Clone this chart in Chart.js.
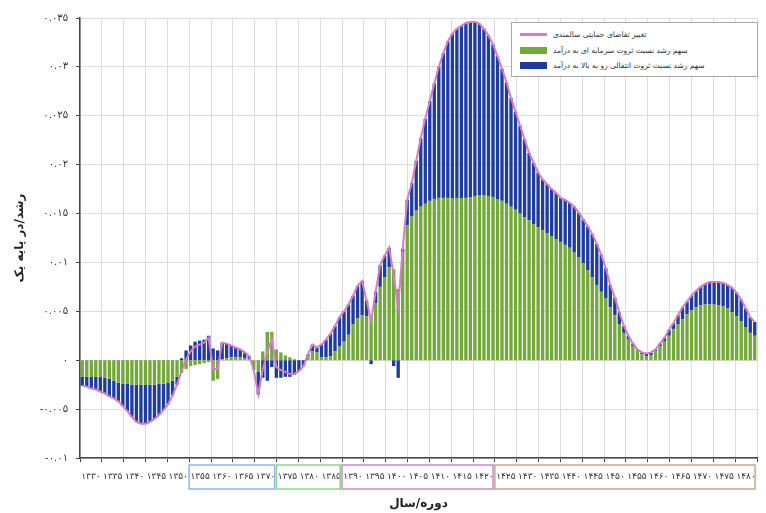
<!DOCTYPE html>
<html lang="fa">
<head>
<meta charset="utf-8">
<title>Chart</title>
<script src="https://cdn.jsdelivr.net/npm/chart.js@4.4.1/dist/chart.umd.min.js"></script>
<style>
  html, body { margin: 0; padding: 0; background: #fff; }
  #wrap { position: relative; width: 766px; height: 513px; }
  #legend {
    position: absolute; left: 511px; top: 22px; width: 247px; height: 55px;
    box-sizing: border-box; border: 1px solid #a8a8a8; background: #fff;
    padding-top: 4px; font-family: "DejaVu Sans", sans-serif; font-size: 7.5px; color: #333;
  }
  #legend .row { display: flex; align-items: center; height: 15.5px; padding-left: 8px; }
  #legend .sw { width: 27px; margin-right: 6px; flex: none; }
</style>
</head>
<body>
<div id="wrap">
  <canvas id="chart"></canvas>
  <div id="legend"></div>
</div>
<script>
// years 1330 .. 1479, one bar per year
const years = [];
for (let y = 1330; y < 1480; y++) years.push(y);

// capital wealth ratio share (green)
const capitalShare = [
  -0.0017, -0.0017, -0.0017, -0.0017, -0.0017, -0.0018, -0.0019, -0.0021, -0.0023, -0.0024,
  -0.0024, -0.0025, -0.0025, -0.0025, -0.0025, -0.0025, -0.0025, -0.0024, -0.0024, -0.0023,
  -0.0021, -0.0017, -0.0013, -0.0009, -0.0006, -0.0005, -0.0004, -0.0003, -0.0002, -0.0021,
  -0.0019, 0.0001, 0.0002, 0.0003, 0.0003, 0.0003, 0.0002, 0.0001, -0.0010, -0.0012,
  0.0009, 0.0029, 0.0029, 0.0011, 0.0008, 0.0005, 0.0003, 0.0001, 0, 0,
  0.0004, 0.0009, 0.0008, 0.0003, 0.0003, 0.0004, 0.0009, 0.0014, 0.0019, 0.0026,
  0.0037, 0.0043, 0.0046, 0.0045, 0.0044, 0.0058, 0.0075, 0.0085, 0.0095, 0.0093,
  0.0073, 0.0110, 0.0138, 0.0147, 0.0153, 0.0157, 0.0160, 0.0163, 0.0165, 0.0166,
  0.0166, 0.0166, 0.0166, 0.0166, 0.0166, 0.0166, 0.0167, 0.0168, 0.0169, 0.0169,
  0.0168, 0.0167, 0.0165, 0.0163, 0.0160, 0.0157, 0.0154, 0.0150, 0.0146, 0.0143,
  0.0139, 0.0136, 0.0133, 0.0130, 0.0127, 0.0124, 0.0121, 0.0118, 0.0115, 0.0110,
  0.0105, 0.0099, 0.0092, 0.0085, 0.0077, 0.0070, 0.0063, 0.0054, 0.0046, 0.0037,
  0.0028, 0.0021, 0.0014, 0.0010, 0.0006, 0.0004, 0.0005, 0.0009, 0.0014, 0.0019,
  0.0025, 0.0032, 0.0037, 0.0042, 0.0047, 0.0051, 0.0054, 0.0056, 0.0057, 0.0057,
  0.0057, 0.0056, 0.0055, 0.0053, 0.0049, 0.0045, 0.0040, 0.0034, 0.0028, 0.0025
];

// upward transfer wealth ratio share (blue)
const transferShare = [
  -0.0009, -0.0010, -0.0012, -0.0013, -0.0015, -0.0016, -0.0018, -0.0018, -0.0019, -0.0023,
  -0.0028, -0.0033, -0.0038, -0.0040, -0.0040, -0.0038, -0.0035, -0.0032, -0.0027, -0.0022,
  -0.0015, -0.0008, 0.0002, 0.0010, 0.0015, 0.0019, 0.0020, 0.0021, 0.0025, 0.0012,
  0.0010, 0.0017, 0.0015, 0.0012, 0.0010, 0.0008, 0.0006, 0.0003, 0, -0.0023,
  -0.0018, -0.0021, -0.0007, -0.0018, -0.0018, -0.0017, -0.0017, -0.0015, -0.0011, -0.0006,
  0.0002, 0.0007, 0.0005, 0.0013, 0.0018, 0.0023, 0.0026, 0.0030, 0.0031, 0.0031,
  0.0029, 0.0033, 0.0035, 0.0016, -0.0004, 0.0012, 0.0022, 0.0022, 0.0020, -0.0006,
  -0.0018, 0.0004, 0.0026, 0.0034, 0.0051, 0.0070, 0.0087, 0.0102, 0.0118, 0.0134,
  0.0148, 0.0160, 0.0168, 0.0173, 0.0176, 0.0179, 0.0179, 0.0178, 0.0175, 0.0170,
  0.0164, 0.0156, 0.0146, 0.0135, 0.0124, 0.0111, 0.0100, 0.0090, 0.0080, 0.0069,
  0.0063, 0.0056, 0.0052, 0.0050, 0.0048, 0.0047, 0.0045, 0.0046, 0.0046, 0.0047,
  0.0046, 0.0045, 0.0045, 0.0044, 0.0042, 0.0038, 0.0031, 0.0023, 0.0018, 0.0012,
  0.0007, 0.0004, 0.0003, 0.0001, 0.0002, 0.0003, 0.0003, 0.0002, 0.0003, 0.0004,
  0.0006, 0.0006, 0.0009, 0.0012, 0.0013, 0.0015, 0.0017, 0.0019, 0.0021, 0.0023,
  0.0023, 0.0024, 0.0024, 0.0024, 0.0025, 0.0024, 0.0022, 0.0019, 0.0016, 0.0014
];

// change in elderly support demand (pink line)
const supportChange = [
  -0.0026, -0.0027, -0.0029, -0.0030, -0.0032, -0.0034, -0.0037, -0.0039, -0.0042, -0.0047,
  -0.0052, -0.0058, -0.0063, -0.0065, -0.0065, -0.0063, -0.0060, -0.0056, -0.0051, -0.0045,
  -0.0036, -0.0025, -0.0011, 0.0001, 0.0009, 0.0014, 0.0016, 0.0018, 0.0023, -0.0009,
  -0.0009, 0.0018, 0.0017, 0.0015, 0.0013, 0.0011, 0.0008, 0.0004, -0.0010, -0.0035,
  -0.0009, 0.0008, 0.0022, -0.0007, -0.0010, -0.0012, -0.0014, -0.0014, -0.0011, -0.0006,
  0.0006, 0.0016, 0.0013, 0.0016, 0.0021, 0.0027, 0.0035, 0.0044, 0.0050, 0.0057,
  0.0066, 0.0076, 0.0081, 0.0061, 0.0040, 0.0070, 0.0097, 0.0107, 0.0115, 0.0087,
  0.0055, 0.0114, 0.0164, 0.0181, 0.0204, 0.0227, 0.0247, 0.0265, 0.0283, 0.0300,
  0.0314, 0.0326, 0.0334, 0.0339, 0.0342, 0.0345, 0.0346, 0.0346, 0.0344, 0.0339,
  0.0332, 0.0323, 0.0311, 0.0298, 0.0284, 0.0268, 0.0254, 0.0240, 0.0226, 0.0212,
  0.0202, 0.0192, 0.0185, 0.0180, 0.0175, 0.0171, 0.0166, 0.0164, 0.0161, 0.0157,
  0.0151, 0.0144, 0.0137, 0.0129, 0.0119, 0.0108, 0.0094, 0.0077, 0.0064, 0.0049,
  0.0035, 0.0025, 0.0017, 0.0011, 0.0008, 0.0007, 0.0008, 0.0011, 0.0017, 0.0023,
  0.0031, 0.0038, 0.0046, 0.0054, 0.0060, 0.0066, 0.0071, 0.0075, 0.0078, 0.0080,
  0.0080, 0.0080, 0.0079, 0.0077, 0.0074, 0.0069, 0.0062, 0.0053, 0.0044, 0.0039
];

const seriesNames = [
  'تغییر تقاضای حمایتی سالمندی',
  'سهم رشد نسبت ثروت سرمایه ای به درآمد',
  'سهم رشد نسبت ثروت انتقالی رو به بالا به درآمد'
];

// coloured frames round groups of year labels
const labelGroups = [
  { from: 1355, to: 1370, color: '#8db6ea' },
  { from: 1375, to: 1385, color: '#92d38c' },
  { from: 1390, to: 1420, color: '#c68bca' },
  { from: 1425, to: 1480, color: '#c9a68d' }
];

const colors = { line: '#d47cc4', green: '#73a83b', blue: '#1d3c9c' };

const faDigits = ['۰', '۱', '۲', '۳', '۴', '۵', '۶', '۷', '۸', '۹'];
function toFa(s) {
  return String(s).replace(/[0-9]/g, d => faDigits[d]);
}

Chart.defaults.font.family = 'DejaVu Sans';

// draws the frames under the x labels
const groupFrames = {
  id: 'groupFrames',
  afterDraw(chart) {
    const s = chart.scales.xt;
    const ctx = chart.ctx;
    const top = s.top + 7;
    const bottom = s.top + 31;
    ctx.save();
    ctx.lineWidth = 1.5;
    labelGroups.forEach(g => {
      const left = s.getPixelForValue(g.from) - 11;
      let right = s.getPixelForValue(g.to) + 9;
      if (right > chart.width - 1) right = chart.width - 1;
      ctx.strokeStyle = g.color;
      ctx.strokeRect(left, top, right - left, bottom - top);
    });
    ctx.restore();
  }
};

const ctx = document.getElementById('chart').getContext('2d');
const chart = new Chart(ctx, {
  type: 'bar',
  data: {
    labels: years,
    datasets: [
      {
        type: 'line',
        label: seriesNames[0],
        data: supportChange,
        borderColor: colors.line,
        borderWidth: 2,
        pointRadius: 0,
        tension: 0,
        stack: 'total',
        order: 0
      },
      {
        label: seriesNames[1],
        data: capitalShare,
        backgroundColor: colors.green,
        stack: 's',
        order: 1,
        categoryPercentage: 1,
        barPercentage: 0.74
      },
      {
        label: seriesNames[2],
        data: transferShare,
        backgroundColor: colors.blue,
        stack: 's',
        order: 1,
        categoryPercentage: 1,
        barPercentage: 0.74
      }
    ]
  },
  options: {
    responsive: true,
    maintainAspectRatio: false,
    animation: false,
    layout: { padding: { top: 18, right: 9, bottom: 0, left: 0 } },
    plugins: {
      legend: { display: false },
      tooltip: { enabled: false }
    },
    scales: {
      x: { display: false, stacked: true },
      xt: {
        type: 'linear',
        position: 'bottom',
        min: 1330,
        max: 1480,
        ticks: {
          stepSize: 5,
          autoSkip: false,
          maxRotation: 0,
          padding: 9,
          color: '#333',
          font: { size: 9 },
          callback: v => toFa(v)
        },
        grid: { color: '#dcdcdc', tickColor: '#444', tickLength: 4 },
        border: { color: '#444', width: 1.5 },
        title: {
          display: true,
          text: 'دوره/سال',
          color: '#222',
          font: { size: 12, weight: 'bold' },
          padding: { top: 0, bottom: 2 }
        },
        afterFit: s => { s.height = 55; s.paddingLeft = 0; s.paddingRight = 0; }
      },
      y: {
        stacked: true,
        min: -0.01,
        max: 0.035,
        ticks: {
          stepSize: 0.005,
          padding: 8,
          color: '#333',
          font: { size: 10 },
          callback: v => toFa(parseFloat(v.toFixed(3)))
        },
        grid: { color: '#dcdcdc', tickColor: '#444', tickLength: 4 },
        border: { color: '#444', width: 1.5 },
        title: {
          display: true,
          text: 'رشد/در پایه یک',
          color: '#222',
          font: { size: 12, weight: 'bold' },
          padding: { top: 13, bottom: 0 }
        },
        afterFit: s => { s.width = 80; }
      }
    }
  },
  plugins: [groupFrames]
});

// html legend, built from the chart's datasets
const legendEl = document.getElementById('legend');
chart.data.datasets.forEach(ds => {
  const row = document.createElement('div');
  row.className = 'row';
  const sw = document.createElement('span');
  sw.className = 'sw';
  if (ds.type === 'line') {
    sw.style.height = '3px';
    sw.style.background = ds.borderColor;
  } else {
    sw.style.height = '7px';
    sw.style.background = ds.backgroundColor;
  }
  const txt = document.createElement('span');
  txt.dir = 'rtl';
  txt.textContent = ds.label;
  row.appendChild(sw);
  row.appendChild(txt);
  legendEl.appendChild(row);
});
</script>
</body>
</html>
